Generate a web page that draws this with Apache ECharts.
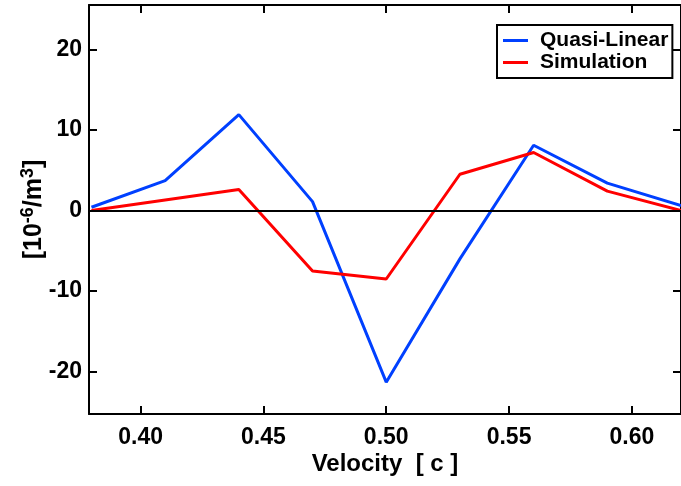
<!DOCTYPE html>
<html>
<head>
<meta charset="utf-8">
<script src="https://cdn.jsdelivr.net/npm/echarts@6/dist/echarts.min.js"></script>
<style>
html,body{margin:0;padding:0;background:#fff;}
#c{width:681px;height:486px;}
</style>
</head>
<body>
<div id="c"></div>
<script>
// Data
const velocity = [0.38, 0.41, 0.44, 0.47, 0.50, 0.53, 0.56, 0.59, 0.62];
const quasiLinear = [0.4, 3.7, 11.9, 1.1, -21.3, -6.0, 8.1, 3.4, 0.6];
const simulation = [0.0, 1.3, 2.6, -7.5, -8.5, 4.5, 7.2, 2.4, 0.0];
const xTicks = [0.40, 0.45, 0.50, 0.55, 0.60];
const yTicks = [-20, -10, 0, 10, 20];
const seriesNames = ['Quasi-Linear', 'Simulation'];

const FONT = 'Liberation Sans';
const toPairs = (xs, ys) => xs.map((x, i) => [x, ys[i]]);

const chart = echarts.init(document.getElementById('c'), null, {renderer: 'canvas'});

const frameAxis = {
  axisLine: {show: true, onZero: false, lineStyle: {color: '#000', width: 2}},
  splitLine: {show: false}
};
const tickStyle = (vals) => ({show: true, inside: true, length: 8, lineStyle: {width: 2, color: '#000'}, customValues: vals});

chart.setOption({
  animation: false,
  backgroundColor: '#fff',
  grid: {left: 89, right: -6, top: 5, bottom: 72, containLabel: false},
  legend: {
    data: seriesNames,
    orient: 'vertical',
    left: 497, top: 25,
    padding: [5, 4, 5, 6],
    itemWidth: 25, itemHeight: 3,
    itemGap: 1,
    icon: 'rect',
    borderColor: '#000', borderWidth: 2,
    backgroundColor: '#fff',
    textStyle: {fontFamily: FONT, fontWeight: 'bold', fontSize: 21, color: '#000', lineHeight: 20, padding: [0, 0, 0, 7]}
  },
  xAxis: [{
    type: 'value', min: 0.379, max: 0.62, position: 'bottom',
    ...frameAxis,
    axisTick: tickStyle(xTicks),
    axisLabel: {show: true, customValues: xTicks, formatter: v => v.toFixed(2), margin: 12,
      fontFamily: FONT, fontWeight: 'bold', fontSize: 23, color: '#000'},
    name: 'Velocity  [ c ]', nameLocation: 'middle', nameGap: 38, nameMoveOverlap: false,
    nameTextStyle: {fontFamily: FONT, fontWeight: 'bold', fontSize: 24, color: '#000'}
  }, {
    type: 'value', min: 0.379, max: 0.62, position: 'top',
    ...frameAxis,
    axisTick: tickStyle(xTicks),
    axisLabel: {show: false}
  }],
  yAxis: [{
    type: 'value', min: -25.25, max: 25.5, position: 'left',
    ...frameAxis,
    axisTick: tickStyle(yTicks),
    axisLabel: {show: true, customValues: yTicks, margin: 7,
      fontFamily: FONT, fontWeight: 'bold', fontSize: 23, color: '#000'},
    name: '[10{sup|-6}/m{sup|3}]', nameLocation: 'middle', nameGap: 40, nameRotate: 90, nameMoveOverlap: false,
    nameTextStyle: {fontFamily: FONT, fontWeight: 'bold', fontSize: 25, color: '#000', lineHeight: 30,
      rich: {sup: {fontFamily: FONT, fontWeight: 'bold', fontSize: 18, color: '#000', verticalAlign: 'top', lineHeight: 18}}}
  }, {
    type: 'value', min: -25.25, max: 25.5, position: 'right',
    ...frameAxis,
    axisTick: tickStyle(yTicks),
    axisLabel: {show: false}
  }],
  series: [{
    name: seriesNames[0], type: 'line', data: toPairs(velocity, quasiLinear),
    showSymbol: false, symbol: 'none',
    lineStyle: {color: '#0040ff', width: 3}, itemStyle: {color: '#0040ff'},
    z: 3,
    markLine: {
      silent: true, symbol: 'none', label: {show: false},
      lineStyle: {color: '#000', width: 2, type: 'solid'},
      data: [{yAxis: 0}]
    }
  }, {
    name: seriesNames[1], type: 'line', data: toPairs(velocity, simulation),
    showSymbol: false, symbol: 'none',
    lineStyle: {color: '#ff0000', width: 3}, itemStyle: {color: '#ff0000'},
    z: 3
  }]
});
</script>
</body>
</html>
